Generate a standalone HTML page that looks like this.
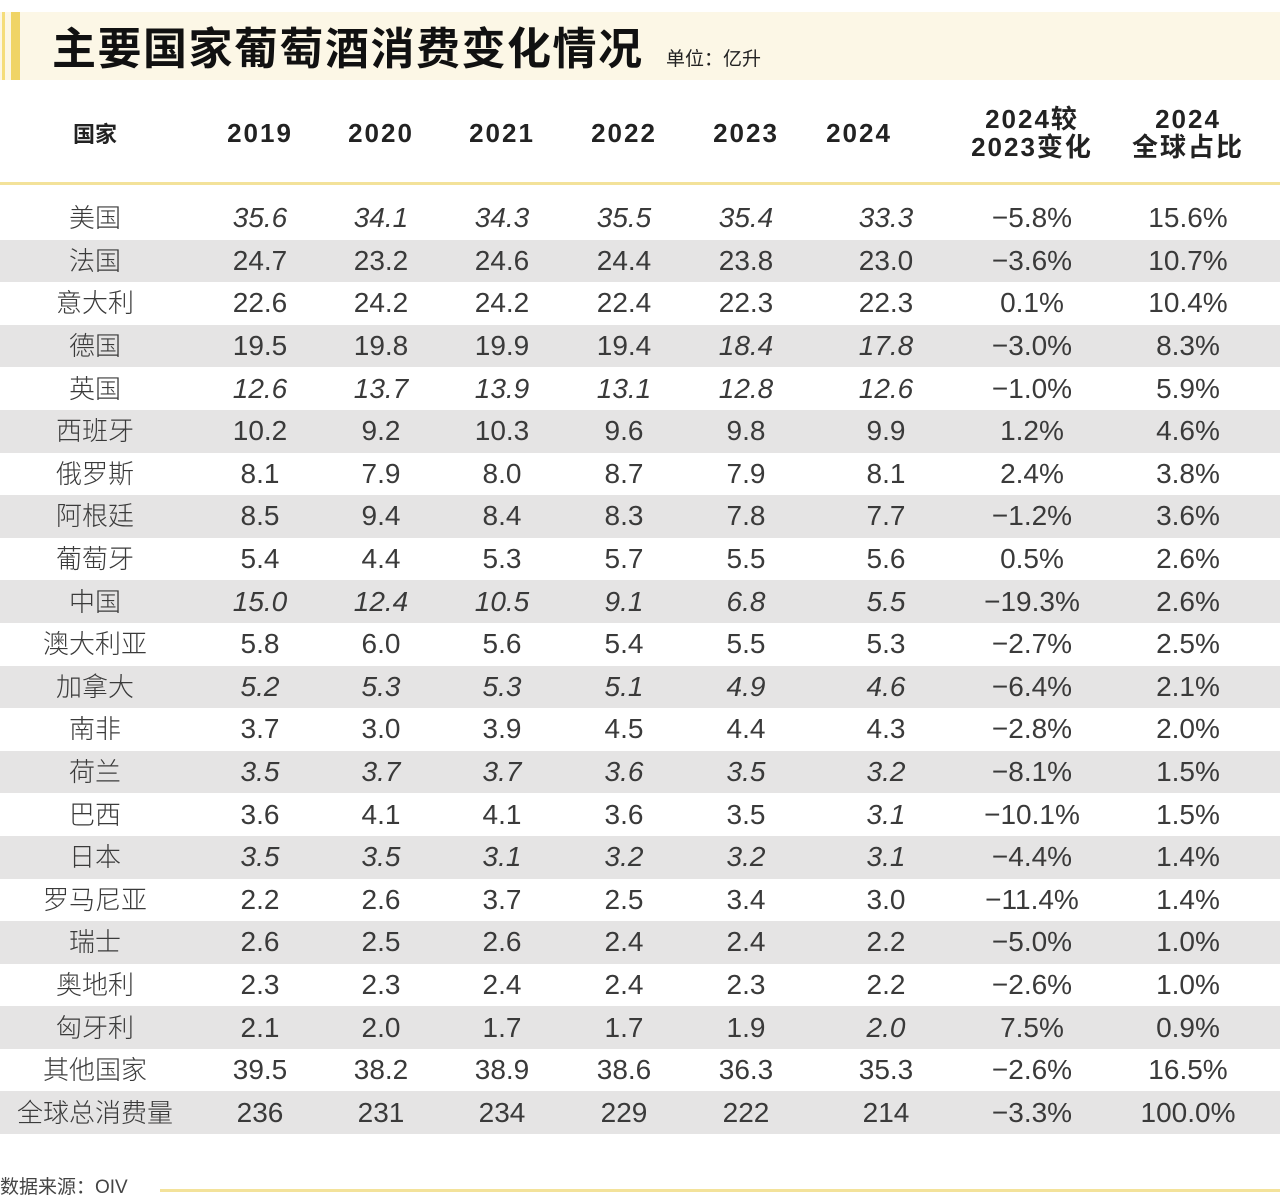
<!DOCTYPE html>
<html><head><meta charset="utf-8"><style>
body{margin:0;width:1280px;height:1203px;background:#fff;position:relative;overflow:hidden;font-family:"Liberation Sans","Noto Sans CJK SC",sans-serif;color:#333}
.band{position:absolute;left:0;top:12px;width:1280px;height:68px;background:#fcf7e6}
.b1{position:absolute;left:2px;top:12px;width:3px;height:68px;background:#f5dd7a}
.b2{position:absolute;left:11px;top:12px;width:9px;height:68px;background:#f0d466}
.title{position:absolute;left:52px;top:15px;font-size:44px;font-weight:bold;color:#111;font-family:"Noto Sans CJK SC",sans-serif;letter-spacing:1.5px;line-height:60px}
.unit{position:absolute;left:666px;top:44px;font-size:19px;color:#222;font-family:"Noto Sans CJK SC",sans-serif}
table{position:absolute;left:0;top:84px;border-collapse:collapse;table-layout:fixed;width:1280px}
td{text-align:center;padding:0;font-size:28px;font-weight:300;color:#3a3a3a;height:42.6px;line-height:42px;white-space:nowrap}
tr.h td{height:98px;font-size:26px;font-weight:bold;color:#222;line-height:28px;letter-spacing:2px;border-bottom:3px solid #f3e29a}
tr.h td.cn{font-family:"Noto Sans CJK SC",sans-serif;font-size:22px;letter-spacing:0}
tr.sp td{height:12px}
tr.g td{background:#e5e4e4}
td.n{font-family:"Liberation Sans","Noto Sans CJK SC",sans-serif;font-size:26px}
i{font-style:italic}
.src{position:absolute;left:0;top:1172px;font-size:19px;color:#444;font-family:"Liberation Sans","Noto Sans CJK SC",sans-serif}
.line{position:absolute;left:160px;top:1189px;width:1120px;height:3px;background:#f3e29a}
</style></head><body>
<div class="band"></div><div class="b1"></div><div class="b2"></div>
<div class="title">主要国家葡萄酒消费变化情况</div>
<div class="unit">单位：亿升</div>
<table>
<colgroup><col style="width:190px"><col style="width:140px"><col style="width:102px"><col style="width:140px"><col style="width:104px"><col style="width:140px"><col style="width:140px"><col style="width:152px"><col style="width:172px"></colgroup>
<tr class="h"><td class="cn">国家</td><td>2019</td><td>2020</td><td>2021</td><td>2022</td><td>2023</td><td style="padding-right:54px">2024</td><td>2024较<br>2023变化</td><td style="padding-right:12px">2024<br>全球占比</td></tr>
<tr class="sp"><td colspan="9"></td></tr>
<tr><td class="n">美国</td><td><i>35.6</i></td><td><i>34.1</i></td><td><i>34.3</i></td><td><i>35.5</i></td><td><i>35.4</i></td><td><i>33.3</i></td><td>−5.8%</td><td style="padding-right:12px">15.6%</td></tr>
<tr class="g"><td class="n">法国</td><td>24.7</td><td>23.2</td><td>24.6</td><td>24.4</td><td>23.8</td><td>23.0</td><td>−3.6%</td><td style="padding-right:12px">10.7%</td></tr>
<tr><td class="n">意大利</td><td>22.6</td><td>24.2</td><td>24.2</td><td>22.4</td><td>22.3</td><td>22.3</td><td>0.1%</td><td style="padding-right:12px">10.4%</td></tr>
<tr class="g"><td class="n">德国</td><td>19.5</td><td>19.8</td><td>19.9</td><td>19.4</td><td><i>18.4</i></td><td><i>17.8</i></td><td>−3.0%</td><td style="padding-right:12px">8.3%</td></tr>
<tr><td class="n">英国</td><td><i>12.6</i></td><td><i>13.7</i></td><td><i>13.9</i></td><td><i>13.1</i></td><td><i>12.8</i></td><td><i>12.6</i></td><td>−1.0%</td><td style="padding-right:12px">5.9%</td></tr>
<tr class="g"><td class="n">西班牙</td><td>10.2</td><td>9.2</td><td>10.3</td><td>9.6</td><td>9.8</td><td>9.9</td><td>1.2%</td><td style="padding-right:12px">4.6%</td></tr>
<tr><td class="n">俄罗斯</td><td>8.1</td><td>7.9</td><td>8.0</td><td>8.7</td><td>7.9</td><td>8.1</td><td>2.4%</td><td style="padding-right:12px">3.8%</td></tr>
<tr class="g"><td class="n">阿根廷</td><td>8.5</td><td>9.4</td><td>8.4</td><td>8.3</td><td>7.8</td><td>7.7</td><td>−1.2%</td><td style="padding-right:12px">3.6%</td></tr>
<tr><td class="n">葡萄牙</td><td>5.4</td><td>4.4</td><td>5.3</td><td>5.7</td><td>5.5</td><td>5.6</td><td>0.5%</td><td style="padding-right:12px">2.6%</td></tr>
<tr class="g"><td class="n">中国</td><td><i>15.0</i></td><td><i>12.4</i></td><td><i>10.5</i></td><td><i>9.1</i></td><td><i>6.8</i></td><td><i>5.5</i></td><td>−19.3%</td><td style="padding-right:12px">2.6%</td></tr>
<tr><td class="n">澳大利亚</td><td>5.8</td><td>6.0</td><td>5.6</td><td>5.4</td><td>5.5</td><td>5.3</td><td>−2.7%</td><td style="padding-right:12px">2.5%</td></tr>
<tr class="g"><td class="n">加拿大</td><td><i>5.2</i></td><td><i>5.3</i></td><td><i>5.3</i></td><td><i>5.1</i></td><td><i>4.9</i></td><td><i>4.6</i></td><td>−6.4%</td><td style="padding-right:12px">2.1%</td></tr>
<tr><td class="n">南非</td><td>3.7</td><td>3.0</td><td>3.9</td><td>4.5</td><td>4.4</td><td>4.3</td><td>−2.8%</td><td style="padding-right:12px">2.0%</td></tr>
<tr class="g"><td class="n">荷兰</td><td><i>3.5</i></td><td><i>3.7</i></td><td><i>3.7</i></td><td><i>3.6</i></td><td><i>3.5</i></td><td><i>3.2</i></td><td>−8.1%</td><td style="padding-right:12px">1.5%</td></tr>
<tr><td class="n">巴西</td><td>3.6</td><td>4.1</td><td>4.1</td><td>3.6</td><td>3.5</td><td><i>3.1</i></td><td>−10.1%</td><td style="padding-right:12px">1.5%</td></tr>
<tr class="g"><td class="n">日本</td><td><i>3.5</i></td><td><i>3.5</i></td><td><i>3.1</i></td><td><i>3.2</i></td><td><i>3.2</i></td><td><i>3.1</i></td><td>−4.4%</td><td style="padding-right:12px">1.4%</td></tr>
<tr><td class="n">罗马尼亚</td><td>2.2</td><td>2.6</td><td>3.7</td><td>2.5</td><td>3.4</td><td>3.0</td><td>−11.4%</td><td style="padding-right:12px">1.4%</td></tr>
<tr class="g"><td class="n">瑞士</td><td>2.6</td><td>2.5</td><td>2.6</td><td>2.4</td><td>2.4</td><td>2.2</td><td>−5.0%</td><td style="padding-right:12px">1.0%</td></tr>
<tr><td class="n">奥地利</td><td>2.3</td><td>2.3</td><td>2.4</td><td>2.4</td><td>2.3</td><td>2.2</td><td>−2.6%</td><td style="padding-right:12px">1.0%</td></tr>
<tr class="g"><td class="n">匈牙利</td><td>2.1</td><td>2.0</td><td>1.7</td><td>1.7</td><td>1.9</td><td><i>2.0</i></td><td>7.5%</td><td style="padding-right:12px">0.9%</td></tr>
<tr><td class="n">其他国家</td><td>39.5</td><td>38.2</td><td>38.9</td><td>38.6</td><td>36.3</td><td>35.3</td><td>−2.6%</td><td style="padding-right:12px">16.5%</td></tr>
<tr class="g"><td class="n">全球总消费量</td><td>236</td><td>231</td><td>234</td><td>229</td><td>222</td><td>214</td><td>−3.3%</td><td style="padding-right:12px">100.0%</td></tr>
</table>
<div class="src">数据来源：OIV</div>
<div class="line"></div>
</body></html>
